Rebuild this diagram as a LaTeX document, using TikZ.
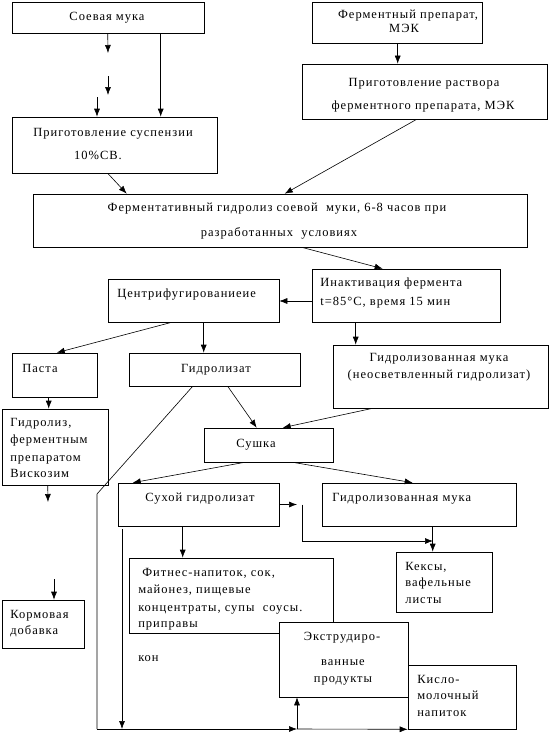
\documentclass[tikz,border=0pt]{standalone}
\usepackage{fontspec}
\setmainfont{Liberation Serif}[LetterSpace=8]
\usetikzlibrary{positioning,arrows.meta,fit}

\begin{document}
\begin{tikzpicture}[x=1pt,y=-1pt,line width=0.6pt,
	box/.style={draw, inner sep=0pt, line width=0.6pt, fill=white},
	txt/.style={inner sep=0pt, text height=8.5pt, text depth=0pt, font=\fontsize{12.5}{15}\selectfont},
	>={Latex[length=8pt,width=6pt]}]
		\useasboundingbox (0,0) rectangle (549,752);
		% boxes
		\node [box, fit={(12,2) (204,33)}] (soy) {};
		\node [box, fit={(312,2) (482,43)}] (enz) {};
		\node [box, fit={(12,117) (217,173)}] (susp) {};
		\node [box, fit={(302,64) (547,119)}] (sol) {};
		\node [box, fit={(33,194) (527,247)}] (hydr) {};
		\node [box, fit={(312,269) (500,322)}] (inact) {};
		\node [box, fit={(108,279) (279,322)}] (centr) {};
		\node [box, fit={(12,353) (97,397)}] (pasta) {};
		\node [box, fit={(129,353) (300,386)}] (hlz) {};
		\node [box, fit={(333,345) (548,408)}] (hflour) {};
		\node [box, fit={(2,409) (108,485)}] (visc) {};
		\node [box, fit={(204,428) (333,462)}] (dry) {};
		\node [box, fit={(118,483) (279,526)}] (dryh) {};
		\node [box, fit={(322,483) (516,526)}] (hflour2) {};
		\node [box, fit={(396,552) (492,612)}] (cakes) {};
		\node [box, fit={(129,558) (333,633)}] (fitn) {};
		\node [box, fit={(2,600) (84,648)}] (feed) {};
		\node [box, fit={(279,622) (408,697)}] (extr) {};
		\node [box, fit={(408,665) (516,729)}] (sour) {};
		% texts
		\node [txt] (tsoy) at (107,16) {Соевая мука};
		\node [txt] (tenz1) at (408,14) {Ферментный препарат,};
		\node [txt] (tenz2) at (404,28) {МЭК};
		\node [txt] (tsusp1) at (113,132) {Приготовление суспензии};
		\node [txt] (tsusp2) at (98,155) {10\%СВ.};
		\node [txt] (tsol1) at (424,82) {Приготовление раствора};
		\node [txt] (tsol2) at (423,105) {ферментного препарата,\ МЭК};
		\node [txt] (thydr1) at (277,207) {Ферментативный гидролиз соевой\ \ муки, 6-8 часов при};
		\node [txt] (thydr2) at (279,232) {разработанных\ \ условиях};
		\node [txt, anchor=west] (tinact1) at (320,282) {Инактивация фермента};
		\node [txt, anchor=west] (tinact2) at (320,301) {t=85°C, время 15 мин};
		\node [txt, anchor=west] (tcentr) at (117,293) {Центрифугированиеие};
		\node [txt, anchor=west] (tpasta) at (22,368) {Паста};
		\node [txt] (thlz) at (216,368) {Гидролизат};
		\node [txt] (thfl1) at (439,357) {Гидролизованная мука};
		\node [txt] (thfl2) at (439,374) {(неосветвленный гидролизат)};
		\node [txt, anchor=west] (tvisc1) at (10,422) {Гидролиз,};
		\node [txt, anchor=west] (tvisc2) at (10,439) {ферментным};
		\node [txt, anchor=west] (tvisc3) at (10,457) {препаратом};
		\node [txt, anchor=west] (tvisc4) at (10,473) {Вискозим};
		\node [txt] (tdry) at (256,443) {Сушка};
		\node [txt] (tdryh) at (200,497) {Сухой гидролизат};
		\node [txt, anchor=west] (thfl3) at (332,497) {Гидролизованная мука};
		\node [txt, anchor=west] (tcakes1) at (405,566) {Кексы,};
		\node [txt, anchor=west] (tcakes2) at (405,582) {вафельные};
		\node [txt, anchor=west] (tcakes3) at (405,599) {листы};
		\node [txt, anchor=west] (tfitn1) at (142,572) {Фитнес-напиток, сок,};
		\node [txt, anchor=west] (tfitn2) at (138,589) {майонез, пищевые};
		\node [txt, anchor=west] (tfitn3) at (138,607) {концентраты, супы\ \ соусы.};
		\node [txt, anchor=west] (tfitn4) at (138,623) {приправы};
		\node [txt, anchor=west] (tkon) at (138,657) {кон};
		\node [txt, anchor=west] (tfeed1) at (10,614) {Кормовая};
		\node [txt, anchor=west] (tfeed2) at (10,630) {добавка};
		\node [txt] (textr1) at (342,636) {Экструдиро-};
		\node [txt] (textr2) at (343,661) {ванные};
		\node [txt] (textr3) at (343,678) {продукты};
		\node [txt, anchor=west] (tsour1) at (417,679) {Кисло-};
		\node [txt, anchor=west] (tsour2) at (417,695) {молочный};
		\node [txt, anchor=west] (tsour3) at (417,712) {напиток};
		% free ends
		\coordinate (s1) at (108,53);
		\coordinate (s2) at (108,76);
		\coordinate (s3) at (108,95);
		\coordinate (s4) at (97,97);
		\coordinate (v1) at (48,502);
		\coordinate (d1) at (297,504.5);
		\coordinate (d2) at (302,504.5);
		\coordinate (d3) at (302,541);
		\coordinate (d4) at (433,541);
		\coordinate (f1) at (54,579);
		\coordinate (b1) at (97,494);
		\coordinate (b2) at (97,729);
		\coordinate (b3) at (297,729);
		\coordinate (b4) at (122,529);
		% connectors
		\draw [->] ([xshift=96]soy.south west) -- (s1);
		\draw [->] (s2) -- (s3);
		\draw [->] (s4) -- (s4 |- susp.north);
		\draw [->] ([xshift=149]soy.south west) -- ([xshift=149]susp.north west);
		\draw [->] ([xshift=86]enz.south west) -- ([xshift=96]sol.north west);
		\draw [->] ([xshift=96]susp.south west) -- ([xshift=94]hydr.north west);
		\draw [->] ([xshift=115]sol.south west) -- ([xshift=252]hydr.north west);
		\draw [->] ([xshift=269]hydr.south west) -- ([xshift=71]inact.north west);
		\draw [->] (inact.west |- tinact2) -- (centr.east |- tinact2);
		\draw [->] ([xshift=64]centr.south west) -- ([xshift=45]pasta.north west);
		\draw [->] ([xshift=96]centr.south west) -- ([xshift=75]hlz.north west);
		\draw [->] ([xshift=44]inact.south west) -- ([xshift=23]hflour.north west);
		\draw [->] ([xshift=37]pasta.south west) -- ([xshift=47]visc.north west);
		\draw [->] ([xshift=46]visc.south west) -- (v1);
		\draw [->] ([xshift=99]hlz.south west) -- ([xshift=53]dry.north west);
		\draw [->] ([xshift=40]hflour.south west) -- ([xshift=79]dry.north west);
		\draw [->] ([xshift=41]dry.south west) -- ([xshift=15]dryh.north west);
		\draw [->] ([xshift=89]dry.south west) -- ([xshift=91]hflour2.north west);
		\draw [->] (dryh.east) -- (d1);
		\draw [->] (d2) -- (d3) -- (d4);
		\draw [->] ([xshift=111]hflour2.south west) -- ([xshift=37]cakes.north west);
		\draw [->] ([xshift=65]dryh.south west) -- ([xshift=54]fitn.north west);
		\draw [->] (f1) -- (f1 |- feed.north);
		\draw ([xshift=64]hlz.south west) -- (b1) -- (b2);
		\draw [->] (b2) -- (b3);
		\draw [->] (b3) -- (sour.south west);
		\draw [->] (b3) -- (b3 |- extr.south);
		\draw [->] (b4) -- (b4 |- b2);
\end{tikzpicture}
\end{document}
